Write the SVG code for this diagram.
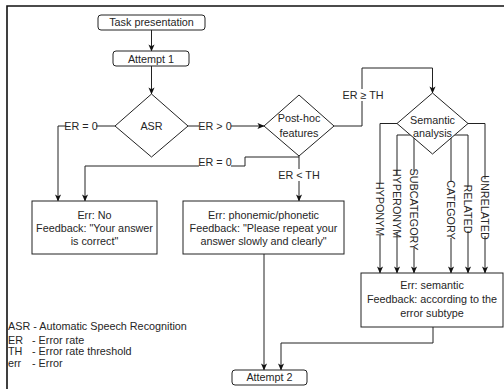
<svg xmlns="http://www.w3.org/2000/svg" width="504" height="389" viewBox="0 0 504 389">
<defs>
<style>
text{font-family:"Liberation Sans",Arial,sans-serif;font-size:10.8px;fill:#262626;}
.c{text-anchor:middle;}
.box{fill:#fff;stroke:#222;stroke-width:1;}
.ln{fill:none;stroke:#222;stroke-width:1;}
.bg{fill:#fff;stroke:none;}
.frame{fill:none;stroke:#111;stroke-width:1.6;}
</style>
<marker id="ah" viewBox="0 0 8 8" refX="7.5" refY="4" markerWidth="7" markerHeight="7" markerUnits="userSpaceOnUse" orient="auto">
<path d="M0,0.5 L8,4 L0,7.5 L2,4 z" fill="#111"/>
</marker>
</defs>
<rect width="504" height="389" fill="#fff"/>
<path class="frame" d="M7,389 V6 H504"/>

<g id="connectors">
<path class="ln" d="M151.5,30 V51" marker-end="url(#ah)"/>
<path class="ln" d="M151.5,66 V94" marker-end="url(#ah)"/>
<path class="ln" d="M115,126 H58 V201" marker-end="url(#ah)"/>
<path class="ln" d="M188,126 H264" marker-end="url(#ah)"/>
<path class="ln" d="M334,126 H362 V68 H432.5 V93" marker-end="url(#ah)"/>
<path class="ln" d="M299,156 V201" marker-end="url(#ah)"/>
<path class="ln" d="M299,157 H245 V166 H85 V201" marker-end="url(#ah)"/>
<path class="ln" d="M397,123.5 H380 V273" marker-end="url(#ah)"/>
<path class="ln" d="M414,135 H397 V273" marker-end="url(#ah)"/>
<path class="ln" d="M414,135 V273" marker-end="url(#ah)"/>
<path class="ln" d="M451,135 V273" marker-end="url(#ah)"/>
<path class="ln" d="M451,135 H468 V273" marker-end="url(#ah)"/>
<path class="ln" d="M468,123.5 H485 V273" marker-end="url(#ah)"/>
<path class="ln" d="M264,254 V370" marker-end="url(#ah)"/>
<path class="ln" d="M433,327 V343 H281 V370" marker-end="url(#ah)"/>
<g id="labels">
<rect class="bg" x="66" y="120" width="30" height="11"/>
<text class="c" x="81" y="129.5">ER = 0</text>
<rect class="bg" x="199" y="120" width="32" height="11"/>
<text class="c" x="215" y="129.5">ER &gt; 0</text>
<rect class="bg" x="343" y="89" width="40" height="12"/>
<text class="c" x="363" y="98.5">ER ≥ TH</text>
<rect class="bg" x="280" y="169" width="38" height="12"/>
<text class="c" x="299" y="178.5">ER &lt; TH</text>
<rect class="bg" x="199" y="157" width="32" height="11"/>
<text class="c" x="215" y="166">ER = 0</text>
<rect class="bg" x="374" y="183" width="12" height="52"/>
<text class="c" transform="translate(380,209) rotate(90)" y="3.8">HYPONYM</text>
<rect class="bg" x="391" y="175" width="12" height="57"/>
<text class="c" transform="translate(397,203.5) rotate(90)" y="3.8">HYPERONYM</text>
<rect class="bg" x="408" y="171" width="12" height="77"/>
<text class="c" transform="translate(414,209.5) rotate(90)" y="3.8">SUBCATEGORY</text>
<rect class="bg" x="445" y="182" width="12" height="56"/>
<text class="c" transform="translate(451,210) rotate(90)" y="3.8">CATEGORY</text>
<rect class="bg" x="462" y="187" width="12" height="44"/>
<text class="c" transform="translate(468,209) rotate(90)" y="3.8">RELATED</text>
<rect class="bg" x="479" y="179" width="12" height="57"/>
<text class="c" transform="translate(485,207.5) rotate(90)" y="3.8">UNRELATED</text>
</g>
</g>

<g id="task">
<rect class="box" x="98" y="15" width="107" height="15" rx="3"/>
<text class="c" x="151.5" y="26.3">Task presentation</text>
</g>
<g id="attempt1">
<rect class="box" x="113" y="51" width="76" height="15" rx="3"/>
<text class="c" x="151" y="62.5">Attempt 1</text>
</g>
<g id="asr">
<path class="box" d="M151.5,94 L188,126 L151.5,157 L115,126 Z"/>
<text class="c" x="151.5" y="130">ASR</text>
</g>
<g id="posthoc">
<path class="box" d="M299,95 L334,126 L299,156 L264,126 Z"/>
<text class="c" x="299" y="121.5">Post-hoc</text>
<text class="c" x="299" y="136.5">features</text>
</g>
<g id="semantic">
<path class="box" d="M432.5,93 L468,123.5 L432.5,154 L397,123.5 Z"/>
<text class="c" x="432.5" y="123.5">Semantic</text>
<text class="c" x="432.5" y="136.5">analysis</text>
</g>
<g id="errno">
<rect class="box" x="32" y="201" width="125" height="53"/>
<text class="c" x="94.5" y="218.5">Err: No</text>
<text class="c" x="94.5" y="231.5">Feedback: "Your answer</text>
<text class="c" x="94.5" y="244.5">is correct"</text>
</g>
<g id="errphon">
<rect class="box" x="183" y="201" width="161" height="53"/>
<text class="c" x="263.5" y="218.5">Err: phonemic/phonetic</text>
<text class="c" x="263.5" y="231.5">Feedback: "Please repeat your</text>
<text class="c" x="263.5" y="244.5">answer slowly and clearly"</text>
</g>
<g id="errsem">
<rect class="box" x="361" y="273" width="142" height="54"/>
<text class="c" x="432" y="288.5">Err: semantic</text>
<text class="c" x="432" y="302.5">Feedback: according to the</text>
<text class="c" x="432" y="316.5">error subtype</text>
</g>
<g id="attempt2">
<rect class="box" x="232" y="370" width="75" height="15" rx="3"/>
<text class="c" x="269.5" y="381.3">Attempt 2</text>
</g>
<g id="legend">
<text x="8" y="329.5">ASR - Automatic Speech Recognition</text>
<text x="8" y="343.5">ER<tspan x="32">- Error rate</tspan></text>
<text x="8" y="355">TH<tspan x="32">- Error rate threshold</tspan></text>
<text x="8" y="366.5">err<tspan x="32">- Error</tspan></text>
</g>
</svg>
